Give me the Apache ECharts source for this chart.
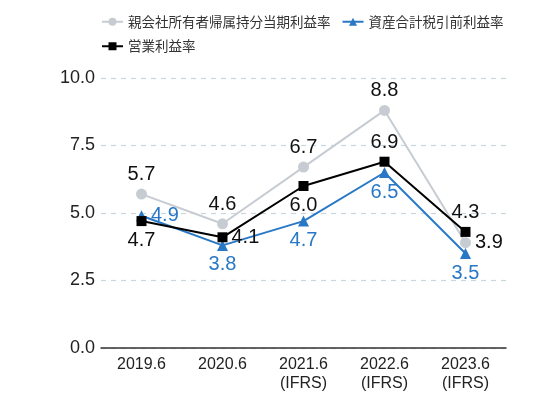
<!DOCTYPE html>
<html><head><meta charset="utf-8">
<script src="https://cdn.jsdelivr.net/npm/echarts@6/dist/echarts.min.js"></script>
<style>html,body{margin:0;padding:0;background:#fff}#c{width:543px;height:394px}</style>
</head><body><div id="c"></div>
<script>
const categories = ['2019.6', '2020.6', '2021.6\n(IFRS)', '2022.6\n(IFRS)', '2023.6\n(IFRS)'];
const netProfitRate = [5.7, 4.6, 6.7, 8.8, 3.9];
const pretaxProfitRate = [4.9, 3.8, 4.7, 6.5, 3.5];
const operatingProfitRate = [4.7, 4.1, 6.0, 6.9, 4.3];
const yTicks = [0, 2.5, 5, 7.5, 10];

const netPos = ['top', 'top', 'top', 'top', 'right'];
const pretaxPos = ['right', 'bottom', 'bottom', 'bottom', 'bottom'];
const opPos = ['bottom', 'right', 'bottom', 'top', 'top'];

const font = "'Liberation Sans', 'Noto Sans CJK JP', sans-serif";
function mk(vals, pos) {
  return vals.map((v, i) => ({ value: v, label: { position: pos[i] } }));
}
const chart = echarts.init(document.getElementById('c'));
chart.setOption({
  animation: false,
  textStyle: { fontFamily: font },
  legend: {
    left: 96, top: 10, width: 440, itemGap: 11, itemWidth: 21, itemHeight: 10,
    textStyle: { fontSize: 13.5, color: '#333', fontFamily: "'Noto Sans CJK JP', sans-serif" },
    data: ['親会社所有者帰属持分当期利益率', '資産合計税引前利益率', '営業利益率']
  },
  grid: { left: 101, right: 37, top: 78, bottom: 46 },
  xAxis: {
    type: 'category', data: categories, boundaryGap: true,
    axisLine: { lineStyle: { color: '#333', width: 1.5 } },
    axisTick: { show: false },
    axisLabel: { color: '#222', fontSize: 16, fontFamily: font, lineHeight: 19, margin: 7 }
  },
  yAxis: {
    type: 'value', min: yTicks[0], max: yTicks[yTicks.length - 1], interval: 2.5,
    axisLabel: { color: '#222', fontSize: 18, formatter: v => v.toFixed(1), margin: 6 },
    axisLine: { show: false }, axisTick: { show: false },
    splitLine: { lineStyle: { color: '#c8d6de', type: [5, 5], width: 1.2 } }
  },
  series: [
    {
      name: '親会社所有者帰属持分当期利益率', type: 'line', data: mk(netProfitRate, netPos),
      symbol: 'circle', symbolSize: 11, z: 2,
      itemStyle: { color: '#c6ccd2' }, lineStyle: { color: '#c6ccd2', width: 2 },
      label: { show: true, color: '#111', fontSize: 20, formatter: p => p.value.toFixed(1), distance: 4 }
    },
    {
      name: '資産合計税引前利益率', type: 'line', data: mk(pretaxProfitRate, pretaxPos),
      symbol: 'triangle', symbolSize: 11, z: 3,
      itemStyle: { color: '#2878c6' }, lineStyle: { color: '#2878c6', width: 2 },
      label: { show: true, color: '#2878c6', fontSize: 20, formatter: p => p.value.toFixed(1), distance: 4 }
    },
    {
      name: '営業利益率', type: 'line', data: mk(operatingProfitRate, opPos),
      symbol: 'rect', symbolSize: 10, z: 4,
      itemStyle: { color: '#000' }, lineStyle: { color: '#000', width: 2 },
      label: { show: true, color: '#111', fontSize: 20, formatter: p => p.value.toFixed(1), distance: 4 }
    }
  ]
});
</script></body></html>
